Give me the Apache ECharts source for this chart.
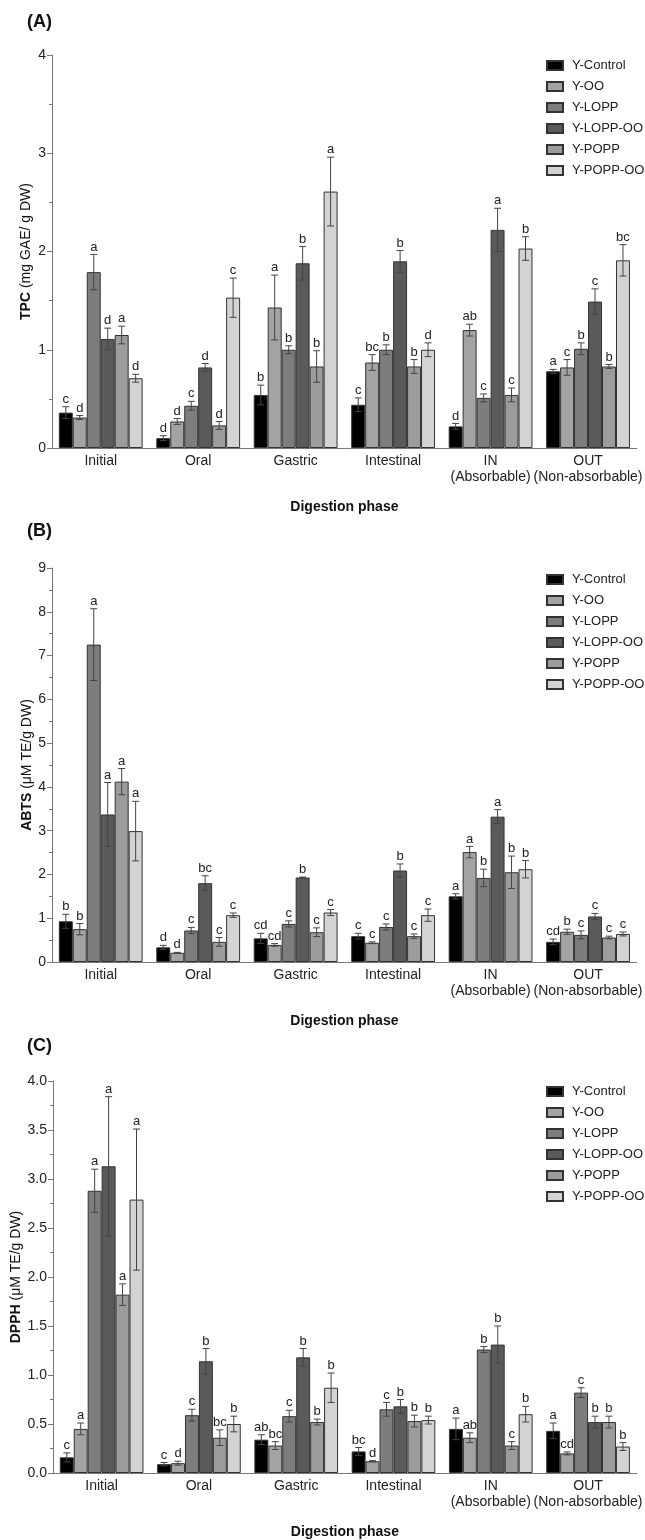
<!DOCTYPE html>
<html><head><meta charset="utf-8">
<script src="https://cdn.jsdelivr.net/npm/echarts@6/dist/echarts.min.js"></script>
<style>html,body{margin:0;padding:0;background:#fff}#c{width:645px;height:1540px}</style>
</head><body><div id="c"></div>
<script>
// ---------- DATA ----------
const phases = ['Initial', 'Oral', 'Gastric', 'Intestinal', 'IN\n(Absorbable)', 'OUT\n(Non-absorbable)'];
const groups = ['Y-Control', 'Y-OO', 'Y-LOPP', 'Y-LOPP-OO', 'Y-POPP', 'Y-POPP-OO'];

// Panel A: TPC (mg GAE/ g DW); rows = groups, columns = phases
const tpcMean = [
  [0.36, 0.10, 0.54, 0.44, 0.22, 0.78],
  [0.31, 0.27, 1.43, 0.87, 1.20, 0.82],
  [1.79, 0.43, 1.00, 1.00, 0.51, 1.01],
  [1.11, 0.82, 1.88, 1.90, 2.22, 1.49],
  [1.15, 0.23, 0.83, 0.83, 0.54, 0.83],
  [0.71, 1.53, 2.61, 1.00, 2.03, 1.91]
];
const tpcErr = [
  [0.06, 0.025, 0.10, 0.07, 0.03, 0.02],
  [0.02, 0.03, 0.33, 0.08, 0.06, 0.08],
  [0.18, 0.045, 0.04, 0.05, 0.04, 0.06],
  [0.11, 0.04, 0.17, 0.11, 0.22, 0.13],
  [0.09, 0.04, 0.16, 0.07, 0.07, 0.02],
  [0.04, 0.20, 0.35, 0.07, 0.12, 0.16]
];
const tpcLetters = [
  ['c', 'd', 'b', 'c', 'd', 'a'],
  ['d', 'd', 'a', 'bc', 'ab', 'c'],
  ['a', 'c', 'b', 'b', 'c', 'b'],
  ['d', 'd', 'b', 'b', 'a', 'c'],
  ['a', 'd', 'b', 'b', 'c', 'b'],
  ['d', 'c', 'a', 'd', 'b', 'bc']
];

// Panel B: ABTS (uM TE/g DW)
const abtsMean = [
  [0.93, 0.335, 0.54, 0.59, 1.50, 0.46],
  [0.75, 0.21, 0.39, 0.44, 2.51, 0.69],
  [7.25, 0.72, 0.87, 0.80, 1.92, 0.62],
  [3.37, 1.80, 1.93, 2.09, 3.32, 1.04],
  [4.12, 0.46, 0.68, 0.59, 2.05, 0.56],
  [2.99, 1.07, 1.13, 1.07, 2.12, 0.64]
];
const abtsErr = [
  [0.16, 0.045, 0.115, 0.065, 0.06, 0.065],
  [0.13, 0.01, 0.03, 0.02, 0.13, 0.06],
  [0.82, 0.07, 0.07, 0.07, 0.20, 0.09],
  [0.73, 0.17, 0.01, 0.15, 0.16, 0.07],
  [0.30, 0.10, 0.10, 0.05, 0.37, 0.03],
  [0.68, 0.05, 0.07, 0.14, 0.20, 0.045]
];
const abtsLetters = [
  ['b', 'd', 'cd', 'c', 'a', 'cd'],
  ['b', 'd', 'cd', 'c', 'a', 'b'],
  ['a', 'c', 'c', 'c', 'b', 'c'],
  ['a', 'bc', 'b', 'b', 'a', 'c'],
  ['a', 'c', 'c', 'c', 'b', 'c'],
  ['a', 'c', 'c', 'c', 'b', 'c']
];

// Panel C: DPPH (uM TE/g DW)
const dpphMean = [
  [0.16, 0.09, 0.34, 0.22, 0.45, 0.43],
  [0.45, 0.10, 0.28, 0.12, 0.36, 0.20],
  [2.88, 0.59, 0.58, 0.65, 1.26, 0.82],
  [3.13, 1.14, 1.18, 0.68, 1.31, 0.52],
  [1.82, 0.36, 0.52, 0.53, 0.28, 0.52],
  [2.79, 0.50, 0.87, 0.54, 0.60, 0.27]
];
const dpphErr = [
  [0.045, 0.017, 0.05, 0.04, 0.11, 0.08],
  [0.06, 0.02, 0.04, 0.006, 0.05, 0.015],
  [0.22, 0.06, 0.06, 0.07, 0.03, 0.05],
  [0.71, 0.13, 0.09, 0.07, 0.19, 0.06],
  [0.11, 0.08, 0.03, 0.06, 0.04, 0.06],
  [0.72, 0.08, 0.15, 0.04, 0.08, 0.04]
];
const dpphLetters = [
  ['c', 'c', 'ab', 'bc', 'a', 'a'],
  ['a', 'd', 'bc', 'd', 'ab', 'cd'],
  ['a', 'c', 'c', 'c', 'b', 'c'],
  ['a', 'b', 'b', 'b', 'b', 'b'],
  ['a', 'bc', 'b', 'b', 'c', 'b'],
  ['a', 'b', 'b', 'b', 'b', 'b']
];

const panelTitles = ['(A)', '(B)', '(C)'];
const yNames = ['{b|TPC} (mg GAE/ g DW)', '{b|ABTS} (\u03bcM TE/g DW)', '{b|DPPH} (\u03bcM TE/g DW)'];
const yMax = [4, 9, 4];
const yInterval = [1, 1, 0.5];
const xName = 'Digestion phase';

// ---------- STYLE ----------
const FONT = '"Liberation Sans", Arial, sans-serif';
const groupColors = ['#000000', '#a3a3a3', '#7d7d7d', '#5a5a5a', '#9c9c9c', '#d3d3d3'];
const CAT_GAP = 0.14;
const grids = [
  { left: 52, right: 2, top: 55, height: 393 },
  { left: 52, right: 2, top: 568, height: 394 },
  { left: 53, right: 2, top: 1081, height: 392 }
];
const titleY = [23, 532, 1047];
const legendTop = [59, 573, 1085];
const yNameX = [26, 27, 16];

const panels = [
  { mean: tpcMean, err: tpcErr, letters: tpcLetters },
  { mean: abtsMean, err: abtsErr, letters: abtsLetters },
  { mean: dpphMean, err: dpphErr, letters: dpphLetters }
];

const series = [];
panels.forEach((p, gi) => {
  p.mean.forEach((row, s) => {
    series.push({
      type: 'bar', name: groups[s], xAxisIndex: gi, yAxisIndex: gi,
      data: row, barGap: '0%', barCategoryGap: (CAT_GAP * 100) + '%',
      itemStyle: { color: groupColors[s], borderColor: '#333', borderWidth: 1 },
      emphasis: { disabled: true }, animation: false
    });
  });
  const data = [];
  p.mean.forEach((row, s) => row.forEach((v, c) => data.push([c, v, p.err[s][c], s, p.letters[s][c]])));
  series.push({
    type: 'custom', xAxisIndex: gi, yAxisIndex: gi, silent: true, z: 10, clip: false,
    encode: { x: 0, y: 1 }, data: data, animation: false,
    renderItem: function (params, api) {
      const c = api.value(0), v = api.value(1), e = api.value(2), s = api.value(3);
      const letter = data[params.dataIndex][4];
      const catW = api.size([1, 0])[0];
      const bw = catW * (1 - CAT_GAP) / groups.length;
      const x = api.coord([c, v])[0] + (s - (groups.length - 1) / 2) * bw;
      const top = api.coord([c, v + e])[1];
      const bot = api.coord([c, Math.max(0, v - e)])[1];
      const cap = 3.5;
      const st = { stroke: '#444', lineWidth: 1 };
      return {
        type: 'group', children: [
          { type: 'line', shape: { x1: x, y1: top, x2: x, y2: bot }, style: st },
          { type: 'line', shape: { x1: x - cap, y1: top, x2: x + cap, y2: top }, style: st },
          { type: 'line', shape: { x1: x - cap, y1: bot, x2: x + cap, y2: bot }, style: st },
          { type: 'text', style: { text: letter, x: x, y: top - 1, align: 'center', verticalAlign: 'bottom',
              font: '13px ' + FONT, fill: '#222' } }
        ]
      };
    }
  });
});

const graphics = [];
panelTitles.forEach((t, i) => {
  graphics.push({
    type: 'text', left: 27, top: titleY[i] - 10,
    style: { text: t, font: 'bold 18px ' + FONT, fill: '#111' }
  });
  graphics.push({
    type: 'text', x: yNameX[i], y: grids[i].top + grids[i].height / 2, rotation: Math.PI / 2,
    style: {
      text: yNames[i], fontSize: 14, fontFamily: FONT, fill: '#111', align: 'center', verticalAlign: 'middle',
      rich: { b: { fontSize: 14, fontFamily: FONT, fontWeight: 'bold', fill: '#111' } }
    }
  });
});

const option = {
  backgroundColor: '#fff',
  animation: false,
  grid: grids,
  xAxis: grids.map((g, i) => ({
    type: 'category', gridIndex: i, data: phases,
    axisLine: { lineStyle: { color: '#777', width: 1 } },
    axisTick: { alignWithLabel: true, length: 5, lineStyle: { color: '#777' } },
    axisLabel: { fontSize: 14, fontFamily: FONT, color: '#222', margin: 5, lineHeight: 16, interval: 0 },
    name: xName, nameLocation: 'middle', nameGap: 52,
    nameTextStyle: { fontSize: 14, fontWeight: 'bold', fontFamily: FONT, color: '#111' }
  })),
  yAxis: grids.map((g, i) => ({
    type: 'value', gridIndex: i, min: 0, max: yMax[i], interval: yInterval[i],
    axisLine: { show: true, lineStyle: { color: '#777', width: 1 } },
    axisTick: { show: true, length: 5, lineStyle: { color: '#777' } },
    minorTick: { show: true, splitNumber: 2, length: 3, lineStyle: { color: '#777' } },
    splitLine: { show: false },
    axisLabel: { fontSize: 14, fontFamily: FONT, color: '#222', margin: 6,
      formatter: i === 2 ? (v => v.toFixed(1)) : (v => String(v)) }
  })),
  legend: grids.map((g, i) => ({
    data: groups, orient: 'vertical', left: 546, top: legendTop[i], padding: 0,
    itemWidth: 16, itemHeight: 9, itemGap: 8, icon: 'rect', selectedMode: false,
    textStyle: { fontSize: 13, fontFamily: FONT, color: '#222', padding: [0, 0, 0, 4] }
  })),
  graphic: graphics,
  series: series
};

const chart = echarts.init(document.getElementById('c'), null, { renderer: 'canvas' });
chart.setOption(option);
</script>
</body></html>
